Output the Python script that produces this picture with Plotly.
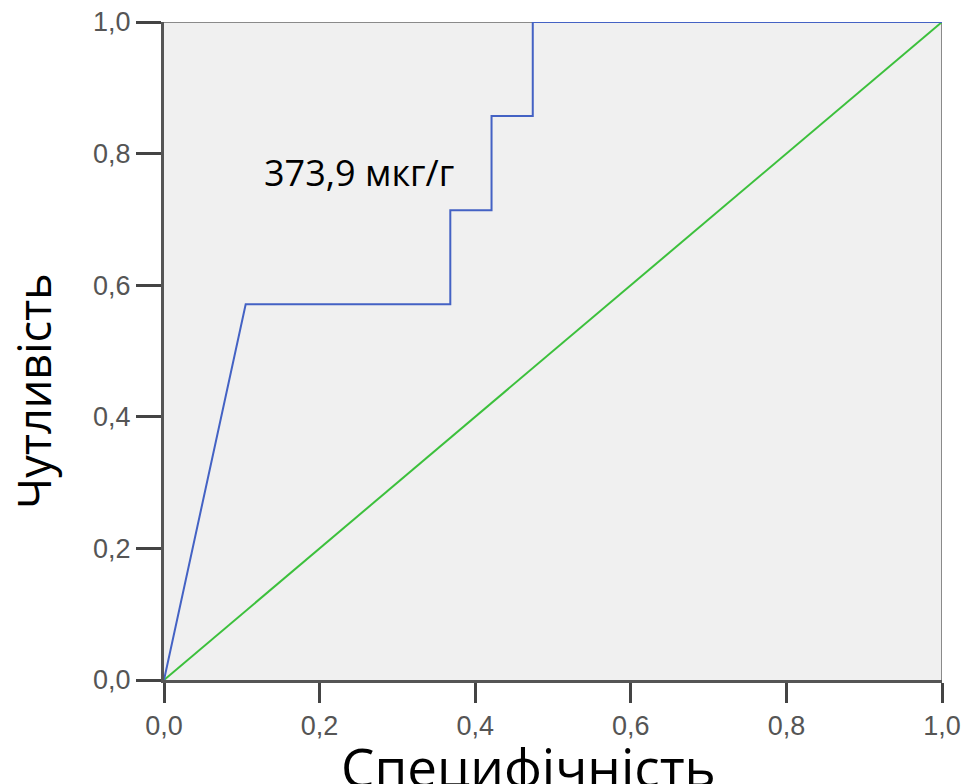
import plotly.graph_objects as go

# ROC curve data (1 - specificity axis labelled "Специфічність")
roc_x = [0.0, 0.105, 0.368, 0.368, 0.421, 0.421, 0.474, 0.474, 1.0]
roc_y = [0.0, 0.571, 0.571, 0.714, 0.714, 0.857, 0.857, 1.0, 1.0]
ref_x = [0.0, 1.0]
ref_y = [0.0, 1.0]
tick_vals = [0.0, 0.2, 0.4, 0.6, 0.8, 1.0]
tick_text = ["0,0", "0,2", "0,4", "0,6", "0,8", "1,0"]
annot_text = "373,9 мкг/г"
x_title = "Специфічність"
y_title = "Чутливість"

fig = go.Figure()
fig.add_trace(go.Scatter(x=ref_x, y=ref_y, mode="lines",
                         line=dict(color="#3cc03c", width=2), hoverinfo="skip"))
fig.add_trace(go.Scatter(x=roc_x, y=roc_y, mode="lines",
                         line=dict(color="#4462c4", width=2), hoverinfo="skip"))

axis_common = dict(range=[0, 1], tickvals=tick_vals, ticktext=tick_text,
                   showgrid=False, zeroline=False, showline=True,
                   linecolor="#555555", linewidth=3, mirror=False,
                   automargin=False,
                   ticks="outside", tickcolor="#444444", tickwidth=3,
                   tickfont=dict(family="Liberation Sans, Arial", size=27, color="#555555"))

fig.update_layout(
    width=966, height=784,
    margin=dict(l=164, r=24, t=22, b=104),
    paper_bgcolor="white", plot_bgcolor="#f0f0f0",
    showlegend=False,
    xaxis=dict(**axis_common, ticklen=20),
    yaxis=dict(**axis_common, ticklen=25),
    shapes=[
        dict(type="line", xref="x", yref="y", x0=0, x1=1, y0=1, y1=1,
             line=dict(color="#8a8a8a", width=2), layer="below"),
        dict(type="line", xref="x", yref="y", x0=1, x1=1, y0=0, y1=1,
             line=dict(color="#8a8a8a", width=2), layer="below"),
    ],
    annotations=[
        dict(x=0.25, y=0.772, xref="x", yref="y", text=annot_text, showarrow=False,
             font=dict(family="Open Sans", size=36, color="black")),
        dict(x=(528 - 164) / 778, y=-(766 - 680) / 658, xref="paper", yref="paper",
             text=x_title, showarrow=False, yanchor="middle",
             font=dict(family="Open Sans", size=53, color="black")),
        dict(x=-(164 - 33) / 778, y=(680 - 391) / 658, xref="paper", yref="paper",
             text=y_title, showarrow=False, textangle=-90,
             xanchor="center", yanchor="middle",
             font=dict(family="Open Sans", size=45, color="black")),
    ],
)
fig.write_html("out.html", config={"displayModeBar": False},
               post_script="document.body.style.margin='0';")
